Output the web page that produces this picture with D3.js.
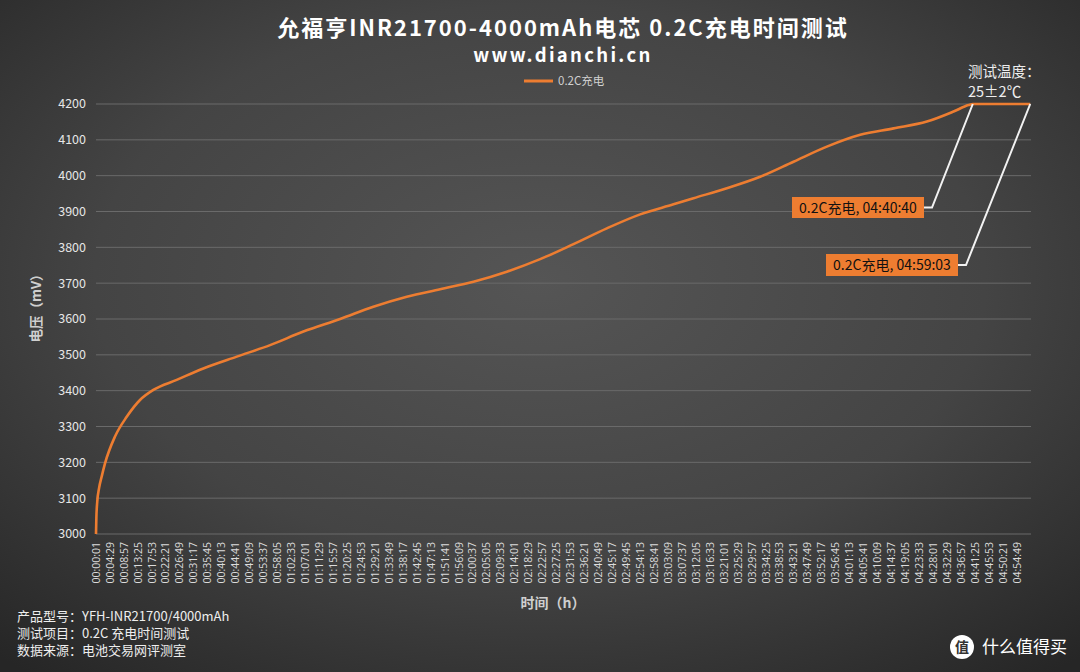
<!DOCTYPE html>
<html>
<head>
<meta charset="utf-8">
<script src="https://cdn.jsdelivr.net/npm/d3@7"></script>
<style>
  body { margin: 0; background: #333; }
  svg { display: block; font-family: "Noto Sans CJK SC", "Noto Sans", sans-serif; }
</style>
</head>
<body>
<script>
// charge curve, time in seconds from 00:00:00, voltage in mV
const times = [1, 8, 25, 60, 110, 174, 366, 591, 846, 1102, 1551, 2062, 2704, 3344, 3984, 4689, 5328, 5970,
  6610, 7250, 7891, 8531, 9171, 9812, 10452, 11092, 11476, 12116, 12757, 13397, 14037, 14678,
  15318, 15958, 16470, 16758, 16840, 17943];
const volts = [3000, 3045, 3090, 3128, 3160, 3197, 3272, 3327, 3374, 3402, 3430, 3462, 3495, 3527, 3565, 3600, 3634, 3662,
  3683, 3704, 3732, 3767, 3809, 3853, 3892, 3920, 3937, 3965, 3997, 4039, 4081, 4114,
  4132, 4151, 4179, 4197, 4200, 4200];

const yTicks = [3000, 3100, 3200, 3300, 3400, 3500, 3600, 3700, 3800, 3900, 4000, 4100, 4200];
const tickStep = 268; // seconds between category labels
const tickCount = 67;
const callouts = [{ t: 16840, v: 4200, label: "0.2C充电, 04:40:40" },
                  { t: 17943, v: 4200, label: "0.2C充电, 04:59:03" }];
const notes = ["产品型号：YFH-INR21700/4000mAh", "测试项目：0.2C 充电时间测试", "数据来源：电池交易网评测室"];

const width = 1080, height = 672;
const margin = { left: 96, top: 104, right: 1031, bottom: 534 };

const svg = d3.select("body").append("svg")
  .attr("width", width)
  .attr("height", height);

const defs = svg.append("defs");
const grad = defs.append("radialGradient")
  .attr("id", "bg")
  .attr("cx", "50%").attr("cy", "42%").attr("r", "75%");
grad.append("stop").attr("offset", "0%").attr("stop-color", "#555555");
grad.append("stop").attr("offset", "55%").attr("stop-color", "#444444");
grad.append("stop").attr("offset", "100%").attr("stop-color", "#262626");

svg.append("rect").attr("width", width).attr("height", height).attr("fill", "url(#bg)");

const x = d3.scaleLinear()
  .domain([1, 1 + tickStep * 66])
  .range([margin.left, 1017]);

const y = d3.scaleLinear()
  .domain([3000, 4200])
  .range([margin.bottom, margin.top]);

// grid
svg.append("g")
  .selectAll("line")
  .data(yTicks)
  .enter()
  .append("line")
  .attr("x1", margin.left)
  .attr("x2", margin.right)
  .attr("y1", d => y(d))
  .attr("y2", d => y(d))
  .attr("stroke", "#6a6a6a")
  .attr("stroke-width", 1);

// y labels
svg.append("g")
  .selectAll("text")
  .data(yTicks)
  .enter()
  .append("text")
  .attr("x", 86)
  .attr("y", d => y(d))
  .attr("dy", "0.35em")
  .attr("text-anchor", "end")
  .attr("fill", "#e6e6e6")
  .style("font-size", "12.5px")
  .text(d => d);

// x labels
const fmt = s => [Math.floor(s / 3600), Math.floor(s % 3600 / 60), s % 60]
  .map(n => String(n).padStart(2, "0")).join(":");
const xTicks = d3.range(tickCount).map(i => 1 + i * tickStep);

svg.append("g")
  .selectAll("text")
  .data(xTicks)
  .enter()
  .append("text")
  .attr("transform", d => `translate(${x(d)},542) rotate(-90)`)
  .attr("dy", "0.35em")
  .attr("text-anchor", "end")
  .attr("fill", "#dcdcdc")
  .style("font-size", "10.5px")
  .style("font-family", "'Open Sans', sans-serif")
  .text(fmt);

// line
const line = d3.line()
  .x((d, i) => x(times[i]))
  .y(d => y(d))
  .curve(d3.curveMonotoneX);

svg.append("path")
  .attr("d", line(volts))
  .attr("fill", "none")
  .attr("stroke", "#ED7D31")
  .attr("stroke-width", 2.6)
  .attr("stroke-linejoin", "round");

// titles
svg.append("text")
  .attr("x", 563).attr("y", 36)
  .attr("text-anchor", "middle")
  .attr("fill", "#ffffff")
  .style("font-size", "22px").style("font-weight", "bold")
  .style("letter-spacing", "2px")
  .text("允福亨INR21700-4000mAh电芯 0.2C充电时间测试");

svg.append("text")
  .attr("x", 563).attr("y", 62)
  .attr("text-anchor", "middle")
  .attr("fill", "#ffffff")
  .style("font-size", "18.5px").style("font-weight", "bold")
  .style("letter-spacing", "2.3px")
  .text("www.dianchi.cn");

// legend
svg.append("line")
  .attr("x1", 524).attr("x2", 553).attr("y1", 81).attr("y2", 81)
  .attr("stroke", "#ED7D31").attr("stroke-width", 3);
svg.append("text")
  .attr("x", 558).attr("y", 81).attr("dy", "0.35em")
  .attr("fill", "#d0d0d0").style("font-size", "11.5px")
  .text("0.2C充电");

// axis titles
svg.append("text")
  .attr("transform", "translate(36,305) rotate(-90)")
  .attr("text-anchor", "middle")
  .attr("dy", "0.35em")
  .attr("fill", "#cfcfcf")
  .style("font-size", "13.5px").style("font-weight", "bold")
  .text("电压（mV）");

svg.append("text")
  .attr("x", 553).attr("y", 608)
  .attr("text-anchor", "middle")
  .attr("fill", "#cfcfcf")
  .style("font-size", "14px").style("font-weight", "bold")
  .text("时间（h）");

// temperature note
svg.append("text")
  .attr("x", 968).attr("y", 77)
  .attr("fill", "#eeeeee").style("font-size", "14.5px")
  .text("测试温度：");
svg.append("text")
  .attr("x", 968).attr("y", 97)
  .attr("fill", "#eeeeee").style("font-size", "14.5px")
  .text("25±2℃");

// callouts
const boxes = [{ x: 792, y: 197, w: 132, h: 21 }, { x: 826, y: 254, w: 132, h: 22 }];
callouts.forEach((c, i) => {
  const b = boxes[i];
  const ly = b.y + b.h / 2;
  svg.append("polyline")
    .attr("points", `${b.x + b.w},${ly} ${b.x + b.w + 8},${ly} ${x(c.t)},${y(c.v)}`)
    .attr("fill", "none")
    .attr("stroke", "#f2f2f2")
    .attr("stroke-width", 2);
  svg.append("rect")
    .attr("x", b.x).attr("y", b.y).attr("width", b.w).attr("height", b.h)
    .attr("fill", "#ED7D31");
  svg.append("text")
    .attr("x", b.x + b.w / 2).attr("y", ly).attr("dy", "0.36em")
    .attr("text-anchor", "middle")
    .attr("fill", "#111111").style("font-size", "14px")
    .text(c.label);
});

// footnotes
svg.append("g")
  .selectAll("text")
  .data(notes)
  .enter()
  .append("text")
  .attr("x", 17)
  .attr("y", (d, i) => 621 + i * 17)
  .attr("fill", "#eeeeee")
  .style("font-size", "13px")
  .text(d => d);

// watermark
svg.append("circle").attr("cx", 962).attr("cy", 647).attr("r", 12).attr("fill", "#ffffff");
svg.append("text")
  .attr("x", 962).attr("y", 647).attr("dy", "0.36em")
  .attr("text-anchor", "middle")
  .attr("fill", "#333333").style("font-size", "14px").style("font-weight", "bold")
  .text("值");
svg.append("text")
  .attr("x", 982).attr("y", 647).attr("dy", "0.36em")
  .attr("fill", "#ffffff").style("font-size", "17px")
  .text("什么值得买");
</script>
</body>
</html>
